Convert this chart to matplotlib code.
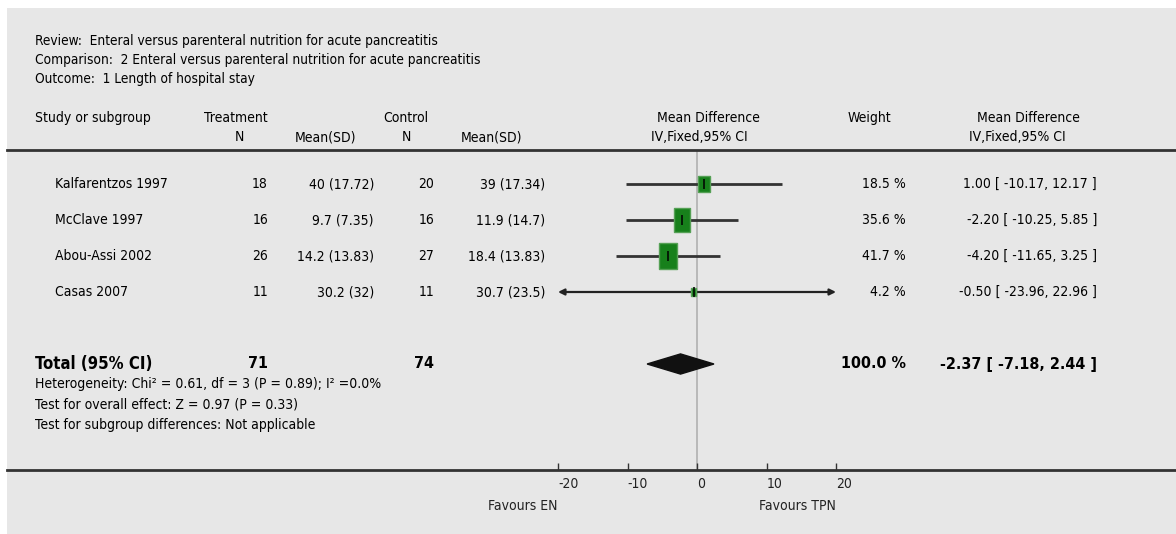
import matplotlib.pyplot as plt
import numpy as np
from matplotlib.patches import Rectangle, Polygon
from matplotlib.transforms import blended_transform_factory

# data
studies = ["Kalfarentzos 1997", "McClave 1997", "Abou-Assi 2002", "Casas 2007"]
trt_n = [18, 16, 26, 11]
trt_mean = [40, 9.7, 14.2, 30.2]
trt_sd = [17.72, 7.35, 13.83, 32]
ctl_n = [20, 16, 27, 11]
ctl_mean = [39, 11.9, 18.4, 30.7]
ctl_sd = [17.34, 14.7, 13.83, 23.5]
md = [1.00, -2.20, -4.20, -0.50]
ci_lo = [-10.17, -10.25, -11.65, -23.96]
ci_hi = [12.17, 5.85, 3.25, 22.96]
weights = [18.5, 35.6, 41.7, 4.2]
total_n = [71, 74]
total_md = [-2.37, -7.18, 2.44]
xticks = [-20, -10, 0, 10, 20]

title_lines = ["Review:  Enteral versus parenteral nutrition for acute pancreatitis",
               "Comparison:  2 Enteral versus parenteral nutrition for acute pancreatitis",
               "Outcome:  1 Length of hospital stay"]
foot_lines = ["Heterogeneity: Chi\u00b2 = 0.61, df = 3 (P = 0.89); I\u00b2 =0.0%",
              "Test for overall effect: Z = 0.97 (P = 0.33)",
              "Test for subgroup differences: Not applicable"]

plt.rcParams['font.family'] = ['DejaVu Sans']
plt.rcParams['font.stretch'] = 'condensed'
plt.rcParams['axes.unicode_minus'] = False

W, H = 1176, 534
fig = plt.figure(figsize=(W / 100, H / 100), dpi=100)
fig.patch.set_facecolor("white")
fig.patches.append(Rectangle((7 / W, 0), 1 - 7 / W, 1 - 8 / H, transform=fig.transFigure,
                             facecolor="#e7e7e7", edgecolor="none", zorder=-10))

def fx(px):
    return px / W

def fy(py):
    return 1 - py / H

# forest axes spans the panel width, from header line to bottom axis line
x0_px, scale = 697, 6.95
row0_px, row_h = 184, 36
ax = fig.add_axes([fx(7), fy(470), 1 - fx(7), (470 - 150) / H])
ax.set_facecolor("none")
ax.set_xlim((7 - x0_px) / scale, (W - x0_px) / scale)
ax.set_ylim((470 - row0_px) / row_h, (150 - row0_px) / row_h)
for s in ["left", "right"]:
    ax.spines[s].set_visible(False)
for s in ["top", "bottom"]:
    ax.spines[s].set_linewidth(2)
    ax.spines[s].set_color("#333333")
ax.set_yticks([])
ax.set_xticks(xticks)
ax.set_xticklabels([str(t) for t in xticks])
ax.tick_params(axis="x", direction="in", length=5, width=1, color="#333333",
               pad=5, labelsize=10, labelcolor="#222222")
for lbl in ax.get_xticklabels():
    lbl.set_ha("left")

ax.axvline(0, color="#b0b0b0", lw=1.2, zorder=0)

lim = max(abs(t) for t in xticks)
rows = np.arange(len(studies))
for i, y in enumerate(rows):
    lo, hi = ci_lo[i], ci_hi[i]
    clo, chi = max(lo, -lim), min(hi, lim)
    if lo < -lim or hi > lim:
        style = "<|-|>" if (lo < -lim and hi > lim) else ("<|-" if lo < -lim else "-|>")
        ax.annotate("", xy=(chi, y), xytext=(clo, y),
                    arrowprops=dict(arrowstyle=style, color="#222222", lw=1.6,
                                    mutation_scale=9, shrinkA=0, shrinkB=0))
    else:
        ax.hlines(y, clo, chi, color="#333333", lw=2)
    side = 2.7 * np.sqrt(weights[i])          # box size in pixels
    bw = side / scale
    bh = side * 1.45 / row_h
    ax.add_patch(Rectangle((md[i] - bw / 2, y - bh / 2), bw, bh, facecolor="#17801b",
                           edgecolor="#55a055", lw=1, zorder=3))
    ax.vlines(md[i], y - 0.15, y + 0.15, color="black", lw=1.1, zorder=4)

ytot = 5
dh = 0.28
ax.add_patch(Polygon([(total_md[1], ytot), (total_md[0], ytot - dh), (total_md[2], ytot),
                      (total_md[0], ytot + dh)], closed=True, facecolor="#111111",
                     edgecolor="#111111", zorder=3))

ax.text(-20, 8.95, "Favours EN", ha="right", va="center", fontsize=10, color="#222222")
ax.text(20, 8.95, "Favours TPN", ha="right", va="center", fontsize=10, color="#222222")

# table text, x in figure pixels, y in rows
tr = blended_transform_factory(fig.transFigure, ax.transData)
fs = 10
for i, y in enumerate(rows):
    ax.text(fx(55), y, studies[i], transform=tr, ha="left", va="center", fontsize=fs)
    ax.text(fx(268), y, str(trt_n[i]), transform=tr, ha="right", va="center", fontsize=fs)
    ax.text(fx(374), y, f"{trt_mean[i]:g} ({trt_sd[i]:g})", transform=tr, ha="right",
            va="center", fontsize=fs)
    ax.text(fx(434), y, str(ctl_n[i]), transform=tr, ha="right", va="center", fontsize=fs)
    ax.text(fx(545), y, f"{ctl_mean[i]:g} ({ctl_sd[i]:g})", transform=tr, ha="right",
            va="center", fontsize=fs)
    ax.text(fx(906), y, f"{weights[i]:.1f} %", transform=tr, ha="right", va="center", fontsize=fs)
    ax.text(fx(1097), y, f"{md[i]:.2f} [ {ci_lo[i]:.2f}, {ci_hi[i]:.2f} ]", transform=tr,
            ha="right", va="center", fontsize=fs)

tfs = 11.5
ax.text(fx(35), ytot, "Total (95% CI)", transform=tr, ha="left", va="center",
        fontsize=12, fontweight="bold")
ax.text(fx(268), ytot, str(total_n[0]), transform=tr, ha="right", va="center",
        fontsize=tfs, fontweight="bold")
ax.text(fx(434), ytot, str(total_n[1]), transform=tr, ha="right", va="center",
        fontsize=tfs, fontweight="bold")
ax.text(fx(906), ytot, f"{sum(weights):.1f} %", transform=tr, ha="right", va="center",
        fontsize=tfs, fontweight="bold")
ax.text(fx(1097), ytot, f"{total_md[0]:.2f} [ {total_md[1]:.2f}, {total_md[2]:.2f} ]",
        transform=tr, ha="right", va="center", fontsize=tfs, fontweight="bold")

for py, line in zip([384, 404, 425], foot_lines):
    fig.text(fx(35), fy(py), line, ha="left", va="center", fontsize=10)

for py, line in zip([41, 60, 79], title_lines):
    fig.text(fx(35), fy(py), line, ha="left", va="center", fontsize=9.8)

# column headers
hy1, hy2 = fy(118), fy(137)
fig.text(fx(35), hy1, "Study or subgroup", ha="left", va="center", fontsize=fs)
fig.text(fx(268), hy1, "Treatment", ha="right", va="center", fontsize=fs)
fig.text(fx(244), hy2, "N", ha="right", va="center", fontsize=fs)
fig.text(fx(356), hy2, "Mean(SD)", ha="right", va="center", fontsize=fs)
fig.text(fx(428), hy1, "Control", ha="right", va="center", fontsize=fs)
fig.text(fx(411), hy2, "N", ha="right", va="center", fontsize=fs)
fig.text(fx(522), hy2, "Mean(SD)", ha="right", va="center", fontsize=fs)
fig.text(fx(708), hy1, "Mean Difference", ha="center", va="center", fontsize=fs)
fig.text(fx(699), hy2, "IV,Fixed,95% CI", ha="center", va="center", fontsize=fs)
fig.text(fx(869), hy1, "Weight", ha="center", va="center", fontsize=fs)
fig.text(fx(1028), hy1, "Mean Difference", ha="center", va="center", fontsize=fs)
fig.text(fx(1017), hy2, "IV,Fixed,95% CI", ha="center", va="center", fontsize=fs)

fig.savefig("out.png", dpi=100)
